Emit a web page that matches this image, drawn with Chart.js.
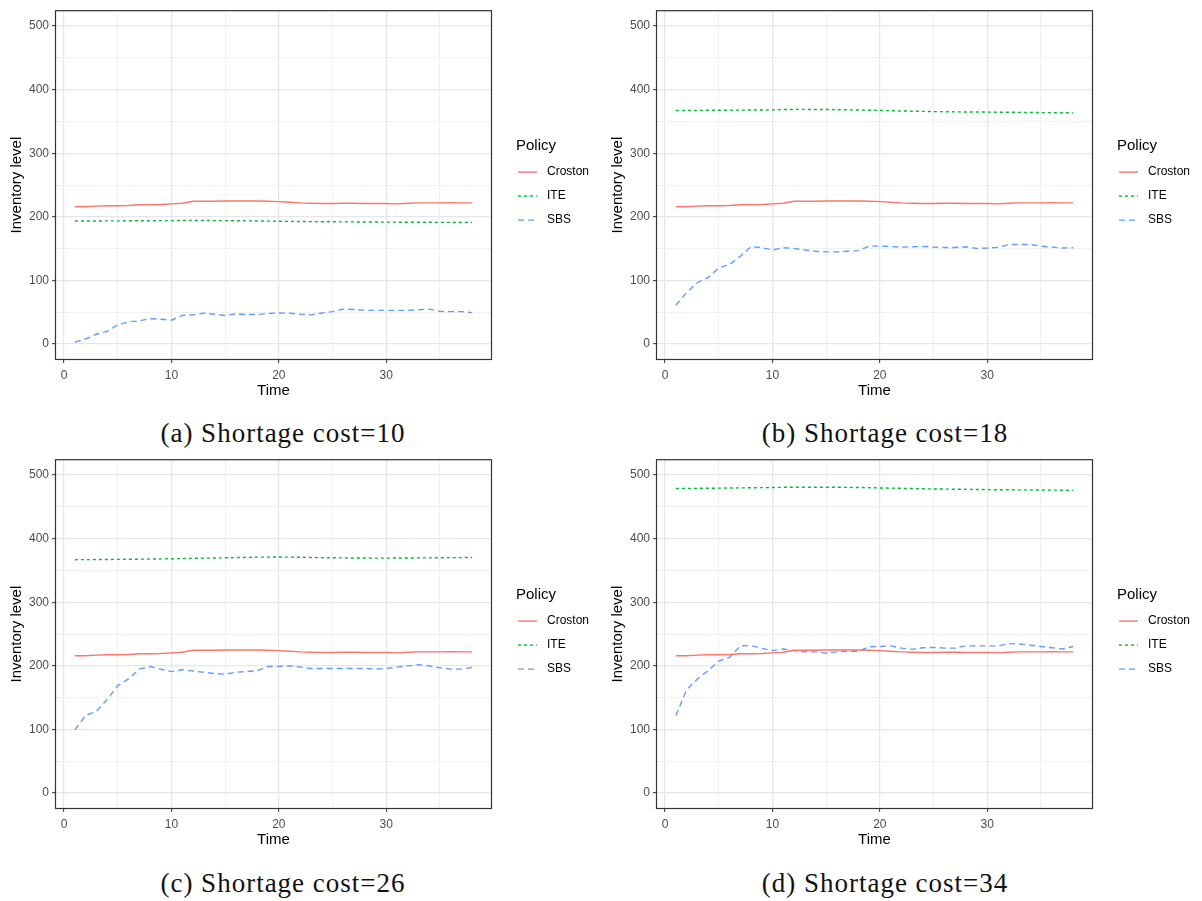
<!DOCTYPE html>
<html>
<head>
<meta charset="utf-8">
<script src="https://cdn.jsdelivr.net/npm/chart.js@4.4.0/dist/chart.umd.min.js"></script>
<style>
  body { margin: 0; background: #fff; }
  .panel { position: absolute; width: 600px; height: 410px; }
  .caption { position: absolute; width: 500px; text-align: center; font-family: 'Liberation Serif', serif; font-size: 27px; line-height: 27px; color: #111; letter-spacing: 1px; }
</style>
</head>
<body>
<div class="panel" style="left:0;top:0"><canvas id="chart-a" width="600" height="410"></canvas></div>
<div class="panel" style="left:601px;top:0"><canvas id="chart-b" width="600" height="410"></canvas></div>
<div class="panel" style="left:0;top:449px"><canvas id="chart-c" width="600" height="410"></canvas></div>
<div class="panel" style="left:601px;top:449px"><canvas id="chart-d" width="600" height="410"></canvas></div>
<div class="caption" style="left:33px;top:420px">(a) Shortage cost=10</div>
<div class="caption" style="left:635px;top:420px">(b) Shortage cost=18</div>
<div class="caption" style="left:33px;top:870px">(c) Shortage cost=26</div>
<div class="caption" style="left:635px;top:870px">(d) Shortage cost=34</div>
<script>
const time = [1, 2, 3, 4, 5, 6, 7, 8, 9, 10, 11, 12, 13, 14, 15, 16, 17, 18, 19, 20,
  21, 22, 23, 24, 25, 26, 27, 28, 29, 30, 31, 32, 33, 34, 35, 36, 37, 38]

// Croston does not depend on the shortage cost, same curve in every panel
const croston = [216, 216, 217, 217.5, 217.5, 218, 219, 219, 219.5, 220.5, 221.5, 224.5, 224.5, 224.5, 225, 225, 225, 225, 224.5, 224,
  223, 222, 221.5, 221, 221, 221.5, 221.5, 221, 221, 221, 220.5, 221.5, 222, 222, 222, 222.5, 222, 222]

const iteCost10 = [193.5, 193.5, 193.6, 193.7, 193.8, 193.9, 194, 194, 194.1, 194.2, 194.3, 194.4, 194.3, 194.2, 194.1, 194, 193.8, 193.6, 193.4, 193.2,
  193, 192.8, 192.6, 192.4, 192.3, 192.2, 192.1, 192, 191.9, 191.8, 191.7, 191.6, 191.5, 191.5, 191.4, 191.3, 191.2, 191.2]
const sbsCost10 = [3, 8, 15.5, 20, 30.5, 35, 36.5, 40, 39, 37.5, 45, 46, 48.5, 47, 45, 47.5, 46.5, 46.5, 48, 49,
  48.5, 47, 46, 49, 51, 55, 54.5, 53, 53, 53, 53, 53, 54, 55, 51.5, 51, 51, 49.5]

const iteCost18 = [367.3, 367.4, 367.5, 367.6, 367.7, 367.8, 367.9, 368, 368.1, 368.3, 368.8, 369, 369, 368.9, 368.8, 368.6, 368.4, 368.1, 367.8, 367.4,
  367, 366.6, 366.2, 365.9, 365.6, 365.4, 365.2, 365, 364.9, 364.8, 364.6, 364.5, 364.4, 364.2, 364, 363.9, 363.7, 363.6]
const sbsCost18 = [61, 81, 96.5, 104.5, 120, 125, 138, 153.5, 151.5, 148, 151.5, 150.5, 148, 146, 145, 145, 146, 147, 154, 154,
  153.5, 152.5, 153, 153.5, 152.5, 152, 152, 153, 150.5, 151, 152, 156.5, 156.5, 156.5, 154, 152.5, 151, 151.5]

const iteCost26 = [367, 367.1, 367.2, 367.3, 367.5, 367.6, 367.8, 368, 368.2, 368.5, 368.8, 369.1, 369.4, 369.7, 370, 370.3, 370.6, 371, 371.1, 371.2,
  371, 370.8, 370.5, 370.2, 370, 369.8, 369.7, 369.6, 369.5, 369.5, 369.6, 369.7, 369.8, 369.9, 370, 370.2, 370.3, 370.5]
const sbsCost26 = [99.5, 122, 128.5, 147, 169, 179.5, 195, 199, 195, 191, 194, 192, 190, 188, 187, 190, 191, 192.5, 199, 199,
  200, 198, 196, 196, 196, 196, 196, 196, 195, 196, 198, 200, 202, 200, 197, 195, 195, 197.5]

const iteCost34 = [479, 479.1, 479.2, 479.3, 479.5, 479.7, 479.9, 480.1, 480.3, 480.5, 480.8, 481, 481, 481, 481, 480.9, 480.7, 480.5, 480.2, 479.8,
  479.5, 479.2, 478.9, 478.5, 478.2, 478, 477.8, 477.6, 477.4, 477.2, 477, 476.9, 476.8, 476.7, 476.6, 476.4, 476.2, 476]
const sbsCost34 = [122, 162.5, 179.5, 192.5, 207.5, 213.5, 231.5, 232, 227.5, 224, 226.5, 224, 222, 222, 220, 222, 223, 223, 230, 230.5,
  231.5, 228, 226, 228.5, 229, 228, 228, 231.5, 231.5, 231.5, 231.5, 235, 234.5, 232.5, 230.5, 228.5, 226.5, 230.5]

const xTicks = [0, 5, 10, 15, 20, 25, 30, 35]
const yTicks = [0, 50, 100, 150, 200, 250, 300, 350, 400, 450, 500]

Chart.defaults.font.family = '"Liberation Sans", Arial, sans-serif'

const sansFont = '"Liberation Sans", Arial, sans-serif'

// ggplot style panel border, drawn over the lines
const panelBorder = {
  id: 'panelBorder',
  afterDatasetsDraw(chart) {
    const { ctx, chartArea: { left, top, width, height } } = chart
    ctx.save()
    ctx.strokeStyle = '#333333'
    ctx.lineWidth = 1.2
    ctx.strokeRect(left + 0.5, top + 0.5, width - 1, height - 1)
    ctx.restore()
  }
}

// legend to the right of the panel, like ggplot's guide
const policyLegend = {
  id: 'policyLegend',
  afterDraw(chart) {
    const { ctx, chartArea } = chart
    const x = chartArea.right + 24
    const midY = (chartArea.top + chartArea.bottom) / 2
    ctx.save()
    ctx.fillStyle = '#000'
    ctx.textBaseline = 'middle'
    ctx.font = `15px ${sansFont}`
    ctx.fillText('Policy', x, midY - 39)
    ctx.font = `12px ${sansFont}`
    chart.data.datasets.forEach((ds, i) => {
      const y = midY - 13 + i * 24
      ctx.strokeStyle = ds.borderColor
      ctx.lineWidth = ds.borderWidth
      ctx.setLineDash(ds.borderDash || [])
      ctx.beginPath()
      ctx.moveTo(x + 2, y)
      ctx.lineTo(x + 21, y)
      ctx.stroke()
      ctx.setLineDash([])
      ctx.fillText(ds.label, x + 31, y)
    })
    ctx.restore()
  }
}

const toPoints = (values) => values.map((v, i) => ({ x: time[i], y: v }))

const gridFor = (step) => ({
  color: (c) => c.tick && c.tick.value % step === 0 ? '#E6E6E6' : '#F0F0F0',
  lineWidth: (c) => c.tick && c.tick.value % step === 0 ? 1.3 : 1,
  tickLength: 3,
  tickWidth: 1,
  tickColor: (c) => c.tick && c.tick.value % step === 0 ? '#333333' : 'rgba(0,0,0,0)'
})

const buildPanel = (id, ite, sbs) => {
  const data = {
    datasets: [
      { label: 'Croston', data: toPoints(croston), borderColor: '#F8766D', borderWidth: 1.4 },
      { label: 'ITE', data: toPoints(ite), borderColor: '#00BA38', borderWidth: 1.4, borderDash: [3, 3] },
      { label: 'SBS', data: toPoints(sbs), borderColor: '#619CFF', borderWidth: 1.4, borderDash: [6, 4] }
    ]
  }

  const config = {
    type: 'line',
    data: data,
    options: {
      responsive: false,
      animation: false,
      layout: { padding: { top: 10, right: 108, left: 0, bottom: 0 } },
      elements: { point: { radius: 0 }, line: { tension: 0, fill: false } },
      plugins: { legend: { display: false }, tooltip: { enabled: false } },
      scales: {
        x: {
          type: 'linear',
          min: -0.85,
          max: 39.85,
          afterBuildTicks: (scale) => { scale.ticks = xTicks.map(value => ({ value })) },
          afterFit: (scale) => { scale.height = 50 },
          grid: gridFor(10),
          border: { display: false },
          ticks: {
            padding: 5,
            color: '#4D4D4D',
            font: { size: 12 },
            maxRotation: 0,
            autoSkip: false,
            callback: (value) => value % 10 === 0 ? value : ''
          },
          title: { display: true, text: 'Time', color: '#000', font: { size: 15 }, padding: { top: 0, bottom: 10 } }
        },
        y: {
          min: -25,
          max: 525,
          afterBuildTicks: (scale) => { scale.ticks = yTicks.map(value => ({ value })) },
          afterFit: (scale) => { scale.width = 55 },
          grid: gridFor(100),
          border: { display: false },
          ticks: {
            padding: 3,
            color: '#4D4D4D',
            font: { size: 12 },
            autoSkip: false,
            callback: (value) => value % 100 === 0 ? value : ''
          },
          title: { display: true, text: 'Inventory level', color: '#000', font: { size: 15 }, padding: { top: 8, bottom: 0 } }
        }
      }
    },
    plugins: [panelBorder, policyLegend]
  }

  new Chart(document.getElementById(id), config)
}

buildPanel('chart-a', iteCost10, sbsCost10)
buildPanel('chart-b', iteCost18, sbsCost18)
buildPanel('chart-c', iteCost26, sbsCost26)
buildPanel('chart-d', iteCost34, sbsCost34)
</script>
</body>
</html>
